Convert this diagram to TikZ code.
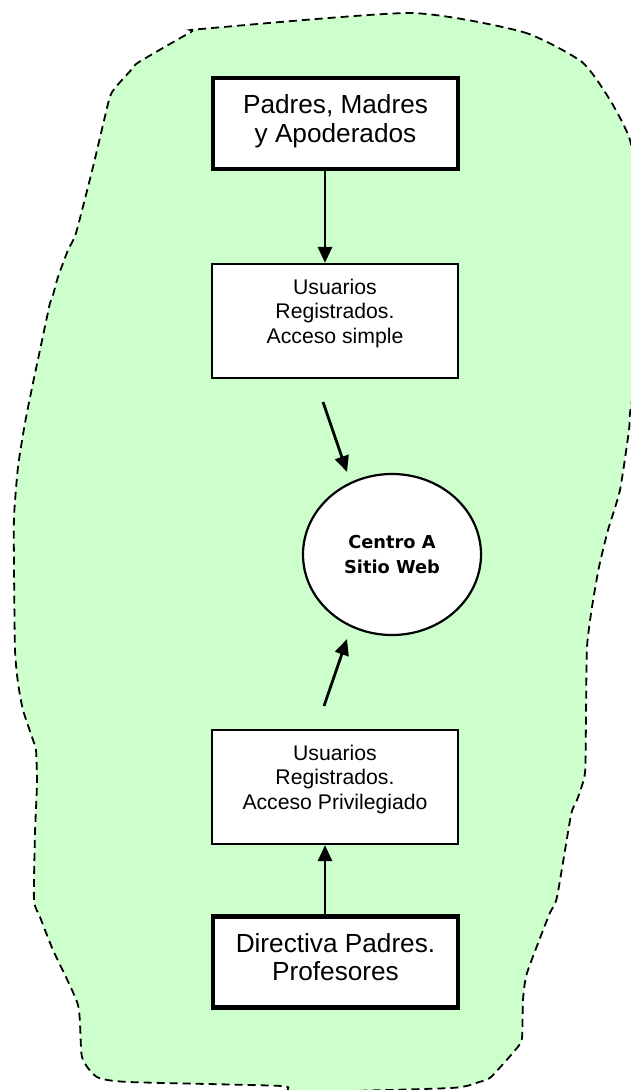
\documentclass[tikz,border=0pt]{standalone}
\usepackage{fontspec}
\setmainfont{Liberation Sans}
\newfontfamily\circfont{DejaVu Sans}
\usetikzlibrary{arrows.meta,shapes.geometric}
\definecolor{blobgreen}{HTML}{CCFFCC}
\begin{document}
\begin{tikzpicture}[x=1pt,y=-1pt,
  bigbox/.style={draw,line width=4.2pt,fill=white,minimum width=245pt,minimum height=91pt,inner sep=0pt,
     font=\fontsize{26.2}{30}\selectfont,align=center},
  smallbox/.style={draw,line width=2.2pt,fill=white,minimum width=246pt,minimum height=114pt,inner sep=0pt},
  webnode/.style={ellipse,draw,line width=2.2pt,fill=white,minimum width=178pt,minimum height=161pt,inner sep=0pt,
     font=\circfont\bfseries\fontsize{17.8}{25}\selectfont,align=center},
  arr/.style={line width=2.8pt,-{Triangle[length=16pt,width=14pt]}},
  blob/.style={fill=blobgreen,draw=black,line width=1.8pt,dash pattern=on 8pt off 5pt}]
\useasboundingbox (0,0) rectangle (631,1090);
\newcommand{\boxtext}[1]{\parbox[c][112pt][t]{240pt}{\centering\fontsize{21.2}{24.5}\selectfont\vspace*{14pt}#1\par}}
\draw[blob] plot[smooth cycle, tension=0.35] coordinates {
 (410,13) (523,32) (582,62) (610,100) (630,140) (638,200) (641,280) (638,360) (630,413)
 (629,430) (620,490) (608,530) (599,567) (592,607) (587,647) (586,713) (585,773)
 (577,800) (571,815) (557,897) (549,915) (527,973) (523,1000) (522,1038) (517,1048)
 (491,1077) (479,1082) (451,1088) (294,1092) (282,1086) (129,1082) (97,1077) (82,1057)
 (78,1005) (53,950) (40,917) (34,900) (35,833) (37,783) (36,750) (33,740) (23,710)
 (18,683) (15,650) (14,567) (14,517) (18,467) (25,423) (33,383) (47,317) (50,303)
 (53,295) (58,277) (68,250) (76,233) (93,167) (109,100) (115,88) (133,68) (139,62)
 (191,32) (201,29)};
\node[bigbox] (padres) at (335.5,123.5) {Padres, Madres\\[-1.5pt]y Apoderados\\[-20pt]};
\node[smallbox] (simple) at (335,321) {\boxtext{Usuarios\\Registrados.\\Acceso simple}};
\node[webnode] (web) at (392,554.5) {Centro A\\Sitio Web};
\node[smallbox] (privil) at (335,787) {\boxtext{Usuarios\\Registrados.\\Acceso Privilegiado}};
\node[bigbox] (directiva) at (335.5,962) {Directiva Padres.\\[-1.5pt]Profesores\\[-20pt]};
\coordinate (s2) at (323,402);
\coordinate (e2) at (347,472);
\coordinate (s3) at (324,706);
\coordinate (e3) at (347,639);
\draw[arr] ([xshift=-10.5pt]padres.south) -- ([xshift=-10pt]simple.north);
\draw[arr] (s2) -- (e2);
\draw[arr] (s3) -- (e3);
\draw[arr] ([xshift=-10.5pt]directiva.north) -- ([xshift=-10pt]privil.south);
\end{tikzpicture}
\end{document}
